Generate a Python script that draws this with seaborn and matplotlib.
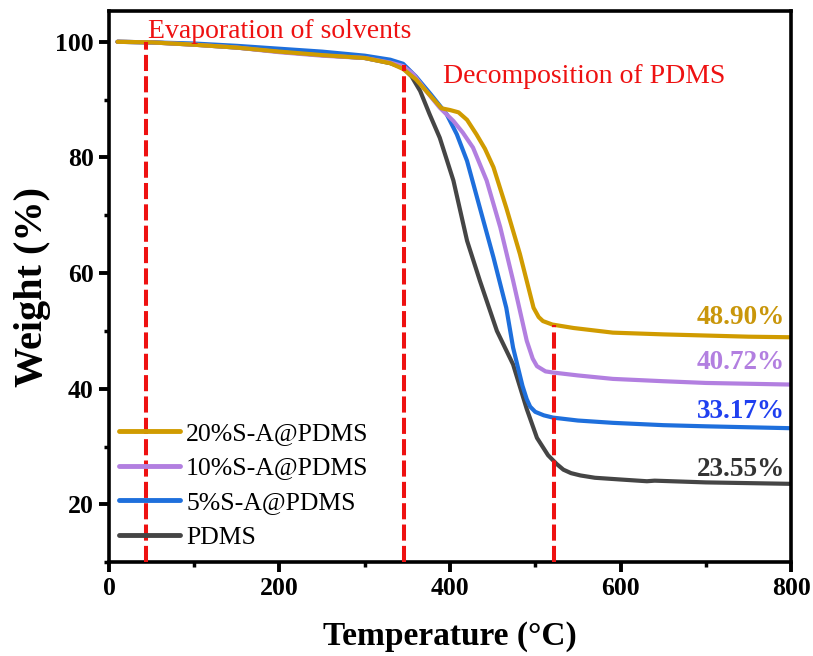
import numpy as np
import pandas as pd
import matplotlib
matplotlib.use("Agg")
import matplotlib.pyplot as plt
import seaborn as sns
from matplotlib.ticker import MultipleLocator

# ---- data ----
t_20 = [10, 50, 100, 150, 200, 250, 300, 330, 345, 360, 375, 390, 400, 410, 420, 431, 441, 451, 466, 482, 498, 504, 509, 520, 545, 591, 650, 700, 750, 800]
w_20 = [100, 99.9, 99.5, 99.0, 98.3, 97.7, 97.2, 96.3, 95.3, 93.5, 91.0, 88.5, 88.2, 87.8, 86.5, 84.0, 81.5, 78.3, 71.3, 63.3, 54.0, 52.4, 51.7, 51.1, 50.5, 49.7, 49.4, 49.2, 49.0, 48.9]

t_10 = [10, 50, 100, 150, 200, 250, 300, 330, 345, 357, 372, 388, 404, 415, 427, 443, 459, 474, 490, 497, 502, 512, 521, 550, 591, 650, 700, 800]
w_10 = [100, 99.9, 99.5, 99.0, 98.2, 97.6, 97.2, 96.4, 95.8, 94.4, 91.5, 88.6, 86.3, 84.3, 81.7, 76.0, 67.9, 58.7, 48.3, 45.2, 43.9, 43.0, 42.8, 42.3, 41.7, 41.3, 41.0, 40.72]

t_5 = [10, 50, 100, 150, 200, 250, 300, 330, 345, 360, 377, 396, 408, 420, 435, 451, 466, 474, 485, 490, 494, 500, 510, 521, 550, 591, 650, 700, 800]
w_5 = [100, 99.9, 99.7, 99.3, 98.8, 98.3, 97.6, 96.9, 96.2, 94.0, 91.0, 87.5, 84.0, 79.4, 71.3, 62.7, 54.0, 47.1, 40.5, 38.2, 36.9, 36.0, 35.4, 35.0, 34.5, 34.1, 33.7, 33.5, 33.17]

t_0 = [10, 50, 100, 150, 200, 250, 300, 330, 345, 355, 365, 376, 388, 404, 420, 435, 455, 474, 490, 502, 515, 525, 533, 542, 553, 570, 600, 631, 640, 700, 800]
w_0 = [100, 99.9, 99.5, 99.0, 98.3, 97.7, 97.2, 96.3, 95.5, 94.0, 91.5, 87.5, 83.4, 76.0, 65.6, 58.7, 50.0, 44.2, 36.5, 31.5, 28.5, 27.0, 26.0, 25.4, 25.0, 24.6, 24.3, 24.0, 24.1, 23.8, 23.55]

series_names = ["PDMS", "5%S-A@PDMS", "10%S-A@PDMS", "20%S-A@PDMS"]
legend_order = ["20%S-A@PDMS", "10%S-A@PDMS", "5%S-A@PDMS", "PDMS"]
colors = {"PDMS": "#454545", "5%S-A@PDMS": "#1E6FDC",
          "10%S-A@PDMS": "#B27FE0", "20%S-A@PDMS": "#D09B00"}
end_labels = ["23.55%", "33.17%", "40.72%", "48.90%"]
end_label_colors = ["#333333", "#1F3FF0", "#B27FE0", "#C9960A"]
end_label_y = [24.9, 35.0, 43.4, 51.2]

stage_x = [43, 346, 522]
stage_ytop = [100, 96, 51]

x_ticks = [0, 200, 400, 600, 800]
y_ticks = [20, 40, 60, 80, 100]

frames = []
for name, t, w in zip(series_names, [t_0, t_5, t_10, t_20], [w_0, w_5, w_10, w_20]):
    frames.append(pd.DataFrame({"Temperature": t, "Weight": w, "Sample": name}))
df = pd.concat(frames, ignore_index=True)

# ---- plotting ----
sns.set_theme(style="white")
plt.rcParams["font.family"] = ["Liberation Serif", "DejaVu Serif"]
plt.rcParams["text.color"] = "black"
plt.rcParams["axes.labelcolor"] = "black"
plt.rcParams["xtick.color"] = "black"
plt.rcParams["ytick.color"] = "black"

fig = plt.figure(figsize=(8.13, 6.56), dpi=100)
ax = fig.add_axes([0.134, 0.143, 0.839, 0.840])

sns.lineplot(data=df, x="Temperature", y="Weight", hue="Sample",
             hue_order=series_names, palette=colors, linewidth=3,
             ax=ax, sort=True, estimator=None)

ylo = 10
for xv, yt in zip(stage_x, stage_ytop):
    ax.plot([xv, xv], [ylo, yt], color="#EE1111", lw=2.9, linestyle=(0, (4.0, 1.3)), zorder=5)

ax.text(46, 100.7, "Evaporation of solvents", color="#EE1111", fontsize=20, va="baseline", ha="left")
ax.text(392, 92.9, "Decomposition of PDMS", color="#EE1111", fontsize=20, va="baseline", ha="left")

for lab, c, yv in zip(end_labels, end_label_colors, end_label_y):
    ax.text(793, yv, lab, color=c, fontsize=19.5, fontweight="bold", ha="right", va="baseline")

ax.set_xlim(0, 800)
ax.set_ylim(10, 105.3)
ax.set_xticks(x_ticks)
ax.set_yticks(y_ticks)
ax.xaxis.set_minor_locator(MultipleLocator(100))
ax.yaxis.set_minor_locator(MultipleLocator(10))
ax.tick_params(axis="both", which="major", direction="out", length=7, width=2.8,
               labelsize=18.5, bottom=True, left=True, color="black", pad=4)
ax.tick_params(axis="both", which="minor", direction="out", length=3.5, width=2.5,
               bottom=True, left=True, color="black")
for lbl in ax.get_xticklabels() + ax.get_yticklabels():
    lbl.set_fontweight("bold")
for sp in ax.spines.values():
    sp.set_linewidth(2.6)
    sp.set_color("black")

ax.set_xlabel("Temperature (\u00b0C)", fontsize=24, fontweight="bold", labelpad=15)
ax.set_ylabel("Weight (%)", fontsize=29, fontweight="bold", labelpad=3)

handles, labels = ax.get_legend_handles_labels()
hmap = dict(zip(labels, handles))
leg = ax.legend([hmap[k] for k in legend_order], legend_order, loc="lower left",
                bbox_to_anchor=(0.0, 0.006), frameon=False, fontsize=18.5,
                handlelength=2.35, handletextpad=0.25, labelspacing=0.45,
                borderaxespad=0.2, borderpad=0.2)
for h in leg.get_lines():
    h.set_linewidth(3.5)

fig.savefig("out.png", dpi=100)
